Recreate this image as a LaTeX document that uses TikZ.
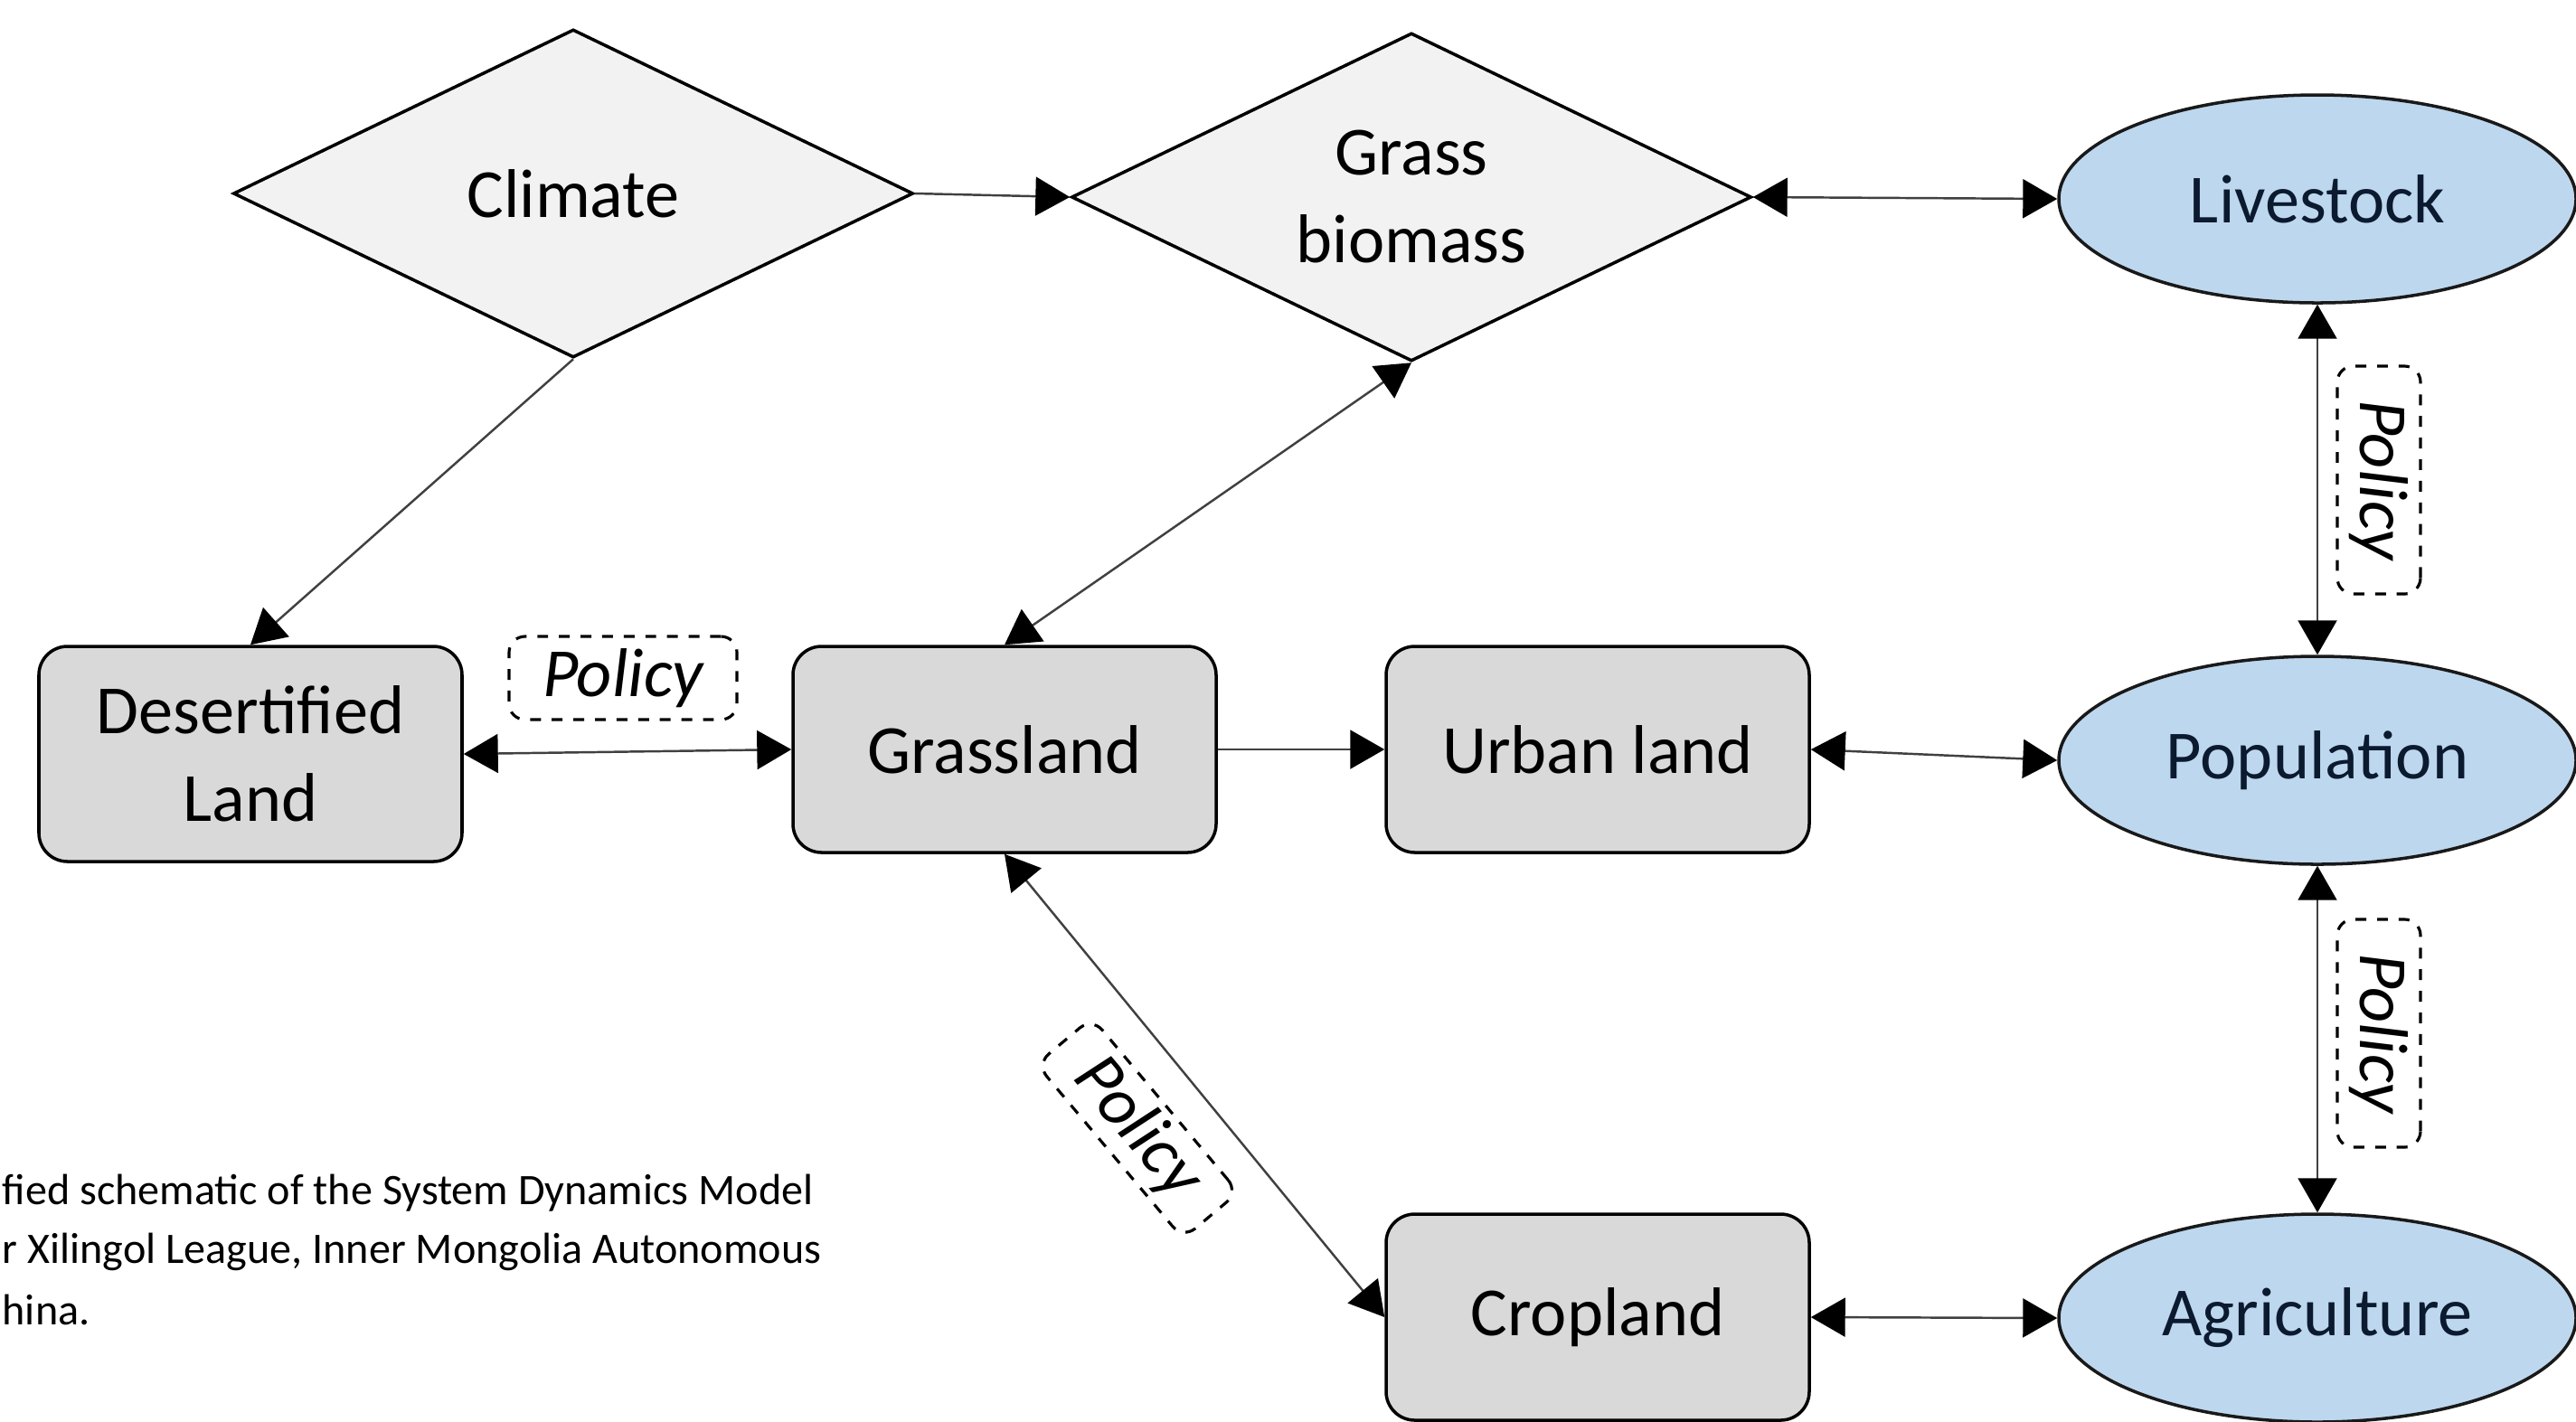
\documentclass[tikz,border=0pt]{standalone}
\usepackage{fontspec}
\setmainfont{Carlito}
\usepackage{tikz}
\usetikzlibrary{shapes, shapes.geometric, arrows.meta}

\definecolor{diamfill}{HTML}{F2F2F2}
\definecolor{boxfill}{HTML}{D9D9D9}
\definecolor{ovalfill}{HTML}{BDD7EE}
\definecolor{ovaltext}{HTML}{0B1A2E}

\begin{document}
\begin{tikzpicture}[->,>={Triangle[length=10.8pt,width=12.2pt,color=black]},
    every edge/.style={draw=black!75, line width=0.7pt},
    bigtext/.style={font=\fontsize{21.7}{27.6}\selectfont},
    driver/.style={diamond, aspect=2, draw, line width=1pt, fill=diamfill, bigtext, align=center,
        minimum width=7.52cm, minimum height=3.63cm, inner sep=0pt},
    landuse/.style={rectangle, rounded corners=9pt, draw, line width=1pt, fill=boxfill, bigtext,
        align=center, minimum width=4.68cm, minimum height=2.28cm, inner sep=0pt},
    sector/.style={ellipse, draw=black!90, line width=1pt, fill=ovalfill, text=ovaltext, bigtext,
        minimum width=5.72cm, minimum height=2.30cm, inner sep=0pt},
    policy/.style={rectangle, rounded corners=5pt, draw, line width=0.9pt,
        dash pattern=on 3.4pt off 3.4pt, bigtext, font=\fontsize{21.7}{27.6}\selectfont\itshape,
        minimum width=2.52cm, minimum height=0.92cm, inner sep=0pt},
    caption/.style={font=\fontsize{13.7}{18.9}\selectfont, inner sep=0pt, anchor=base west}]

    \useasboundingbox (0,0) rectangle (28.49,-15.72);

    \node[driver]   (Climate)       at (6.34,-2.14)     {Climate};
    \node[driver]   (Grass)         at (15.61,-2.18)    {Grass\\biomass};
    \node[sector]   (Livestock)     at (25.63,-2.20)    {Livestock};
    \node[landuse, minimum height=2.38cm]
                    (Desertified)   at (2.77,-8.34)     {Desertified\\Land};
    \node[landuse]  (Grassland)     at (11.11,-8.29)    {Grassland};
    \node[landuse]  (Urban)         at (17.67,-8.29)    {Urban land};
    \node[sector]   (Population)    at (25.63,-8.41)    {Population};
    \node[landuse]  (Cropland)      at (17.67,-14.57)   {Cropland};
    \node[sector]   (Agriculture)   at (25.63,-14.58)   {Agriculture};

    % policy levers
    \node[policy]               (PolicyDes)     at (6.89,-7.50)     {Policy};
    \node[policy, rotate=-90]   (PolicyLive)    at (26.31,-5.31)    {Policy};
    \node[policy, rotate=-90]   (PolicyAgri)    at (26.31,-11.43)   {Policy};
    \node[policy, rotate=-50, minimum height=0.80cm]
                                (PolicyCrop)    at (12.58,-12.48)   {Policy};

    \path
    (Climate.east)
    edge                (Grass.west)
    (Climate.south)
    edge                (Desertified.north)
    (Grass.east)
    edge [<->]          (Livestock.west)
    (Grass.south)
    edge [<->]          (Grassland.north)
    (Desertified.east)
    edge [<->]          (Grassland.west)
    (Grassland.east)
    edge                (Urban.west)
    (Grassland.south)
    edge [<->]          (Cropland.west)
    (Urban.east)
    edge [<->]          (Population.west)
    (Livestock.south)
    edge [<->]          (Population.north)
    (Population.south)
    edge [<->]          (Agriculture.north)
    (Cropland.east)
    edge [<->]          (Agriculture.west);

    \node[caption]  (CapA)  at (0.02,-13.32)    {fied schematic of the System Dynamics Model};
    \node[caption]  (CapB)  at (0.02,-13.97)    {r Xilingol League, Inner Mongolia Autonomous};
    \node[caption]  (CapC)  at (0.02,-14.65)    {hina.};

\end{tikzpicture}
\end{document}
